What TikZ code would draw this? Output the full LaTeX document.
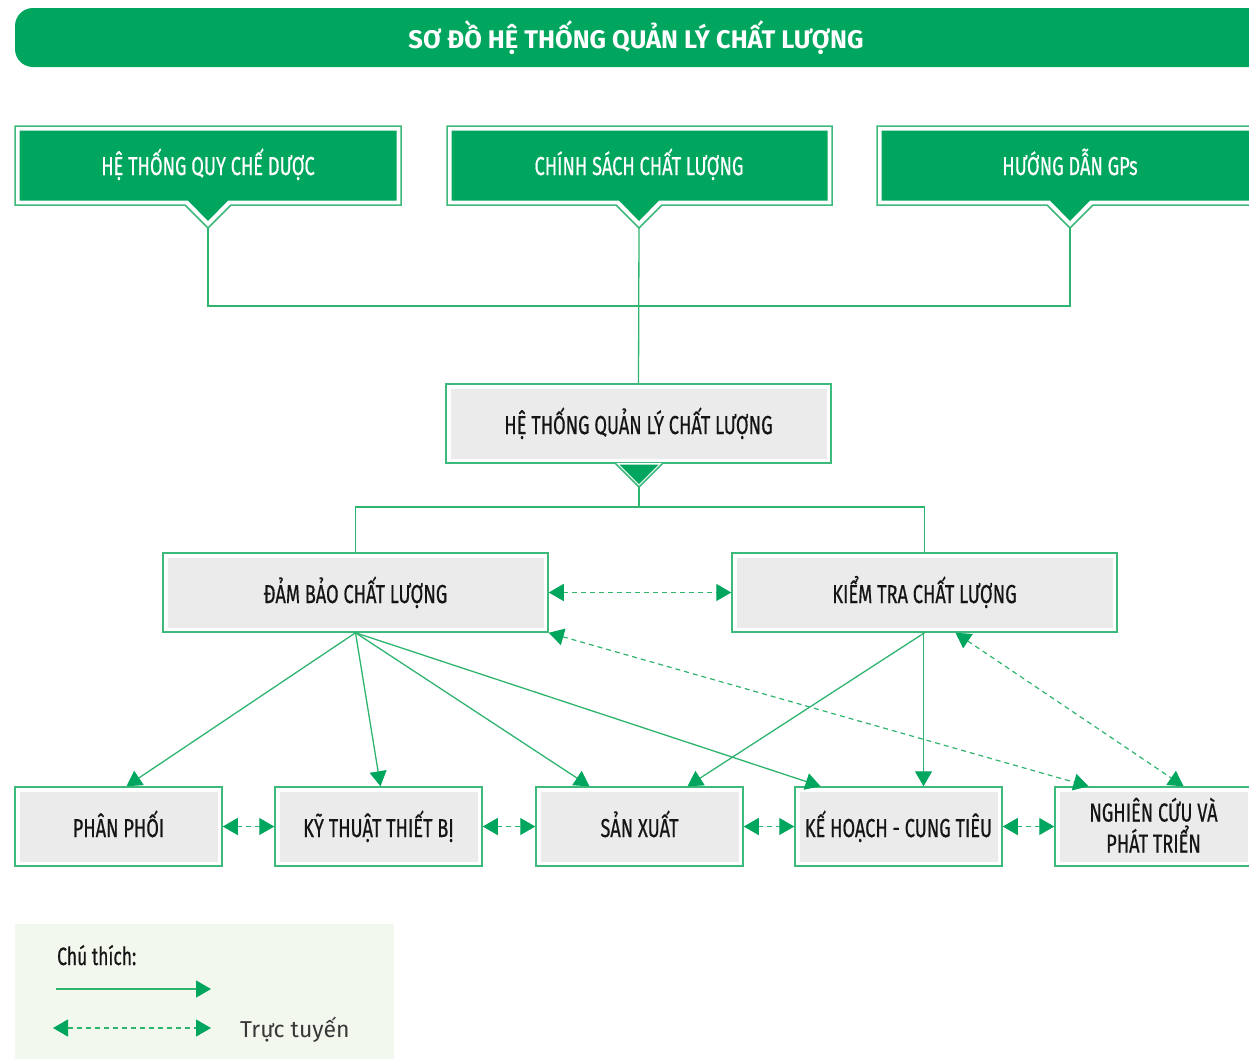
\documentclass[tikz,border=0pt]{standalone}
\usepackage{fontspec}
\setmainfont{Fira Sans}
\newfontfamily\condfont{Fira Sans}[FakeStretch=0.7,FakeBold=0.5]
\usetikzlibrary{arrows.meta}
\definecolor{bgreen}{HTML}{00A65D}
\definecolor{bordergreen}{HTML}{3DB97C}
\definecolor{linegreen}{HTML}{2EB46F}
\definecolor{boxgray}{HTML}{EBEBEB}
\definecolor{legendbg}{HTML}{F3F8EF}
\definecolor{txt}{HTML}{151515}
\newcommand\boxfont{\condfont\fontsize{26}{31}\selectfont}
\tikzset{
  gbox/.style={draw=bordergreen, line width=1.5pt, fill=white, inner sep=0pt,
    minimum height=79pt, font=\boxfont, text=txt, align=center,
    text height=24pt, text depth=3pt,
    path picture={\fill[boxgray] ([shift={(4.5pt,4.5pt)}]path picture bounding box.south west)
      rectangle ([shift={(-4.5pt,-4.5pt)}]path picture bounding box.north east);}},
  widebox/.style={minimum width=385pt},
  smallbox/.style={minimum width=207pt},
  wtext/.style={font=\boxfont, text=white, inner sep=0pt, anchor=base},
  conn/.style={draw=linegreen, line width=1.3pt},
  arr/.style={conn, -{Triangle[length=15pt,width=17pt,color=bgreen]}},
  darr/.style={conn, line width=1.2pt, dash pattern=on 5pt off 4pt,
    {Triangle[length=15pt,width=17pt,color=bgreen]}-{Triangle[length=15pt,width=17pt,color=bgreen]}},
}
% callout box: name, x1, x2, cx, text
\newcommand\callout[5]{%
  \draw[bordergreen, line width=1.5pt, fill=white] (#2,126) -- (#3,126) -- (#3,205) -- (#4+23,205)
     -- (#4,228) -- (#4-23,205) -- (#2,205) -- cycle;
  \fill[bgreen] (#2+4.5,130.5) -- (#3-4.5,130.5) -- (#3-4.5,200.5) -- (#4+20,200.5)
     -- (#4,221) -- (#4-20,200.5) -- (#2+4.5,200.5) -- cycle;
  \node[wtext] (#1) at (#4,175) {#5};
  \coordinate (#1tip) at (#4,228);
}
\begin{document}
\begin{tikzpicture}[x=1pt,y=-1pt]
\path[use as bounding box] (0,0) rectangle (1249,1058);
\begin{scope}
\clip (0,0) rectangle (1249,1058);
% banner
\fill[bgreen, rounded corners=18pt] (15,8) rectangle (1300,67);
\node[text=white, font=\bfseries\fontsize{25.5}{30}\selectfont, inner sep=0pt, anchor=base] (title) at (636,48)
  {SƠ ĐỒ HỆ THỐNG QUẢN LÝ CHẤT LƯỢNG};
% top callouts
\callout{hq}{15}{401}{208}{HỆ THỐNG QUY CHẾ DƯỢC}
\callout{cs}{447}{832}{639}{CHÍNH SÁCH CHẤT LƯỢNG}
\callout{hd}{877}{1300}{1070}{HƯỚNG DẪN GPs}
\coordinate (jt) at (639,306);
% middle box
\node[gbox, widebox] (qms) at (638.5,423.5) {HỆ THỐNG QUẢN LÝ CHẤT LƯỢNG};
\draw[bordergreen, line width=1.5pt, fill=white] (615,463) -- (639,487) -- (663,463);
\fill[bgreen] (619.5,464.5) -- (639,484) -- (658.5,464.5) -- cycle;
\coordinate (qtip) at (639,487);
\coordinate (jb) at (639,507);
% top connectors
\draw[conn] (hqtip) |- (jt) -| (hdtip);
\draw[conn] (cstip) -- (qms.north);
% level 2
\node[gbox, widebox] (db) at (355.5,592.5) {ĐẢM BẢO CHẤT LƯỢNG};
\node[gbox, widebox] (kt) at (924.5,592.5) {KIỂM TRA CHẤT LƯỢNG};
\draw[conn] (qtip) -- (jb);
\draw[conn] (db.north) |- (jb) -| (kt.north);
% bottom
\node[gbox, smallbox] (pp) at (118.5,826.5) {PHÂN PHỐI};
\node[gbox, smallbox] (ky) at (378.5,826.5) {KỸ THUẬT THIẾT BỊ};
\node[gbox, smallbox] (sx) at (639.5,826.5) {SẢN XUẤT};
\node[gbox, smallbox] (kh) at (898.5,826.5) {KẾ HOẠCH - CUNG TIÊU};
\node[gbox, minimum width=197pt, text height=55pt] (nc) at (1153.5,826.5) {NGHIÊN CỨU VÀ\\PHÁT TRIỂN};
% solid arrows
\draw[arr] (db.south) -- ([xshift=8pt]pp.north);
\draw[arr] (db.south) -- ([xshift=2pt]ky.north);
\draw[arr] (db.south) -- ([xshift=-50pt]sx.north);
\draw[arr] (db.south) -- ([xshift=-78pt]kh.north);
\draw[arr] (kt.south) -- ([xshift=48pt]sx.north);
\draw[arr] ([xshift=-1pt]kt.south) -- ([xshift=-1pt]kt.south |- kh.north);
% dashed arrows
\draw[darr] (db.east) -- (kt.west);
\draw[darr] (pp.east) -- (ky.west);
\draw[darr] (ky.east) -- (sx.west);
\draw[darr] (sx.east) -- (kh.west);
\draw[darr] (kh.east) -- (nc.west);
\draw[darr] (db.south east) -- ([xshift=-65pt]nc.north);
\draw[darr] ([xshift=31pt]kt.south) -- ([xshift=30pt]nc.north);
% legend
\fill[legendbg] (15,924) rectangle (394,1060);
\node[anchor=base west, inner sep=0pt, text=txt, font=\condfont\fontsize{25}{28}\selectfont] (lgt) at (57,965) {Chú thích:};
\coordinate (la1) at (56,989);
\coordinate (la2) at (211,989);
\coordinate (lb1) at (53,1028);
\coordinate (lb2) at (211,1028);
\draw[arr] (la1) -- (la2);
\draw[darr] (lb1) -- (lb2);
\node[anchor=base west, inner sep=0pt, text=txt!85, font=\fontsize{23}{28}\selectfont] (ltt) at (240,1037) {Trực tuyến};
\end{scope}
\end{tikzpicture}
\end{document}
